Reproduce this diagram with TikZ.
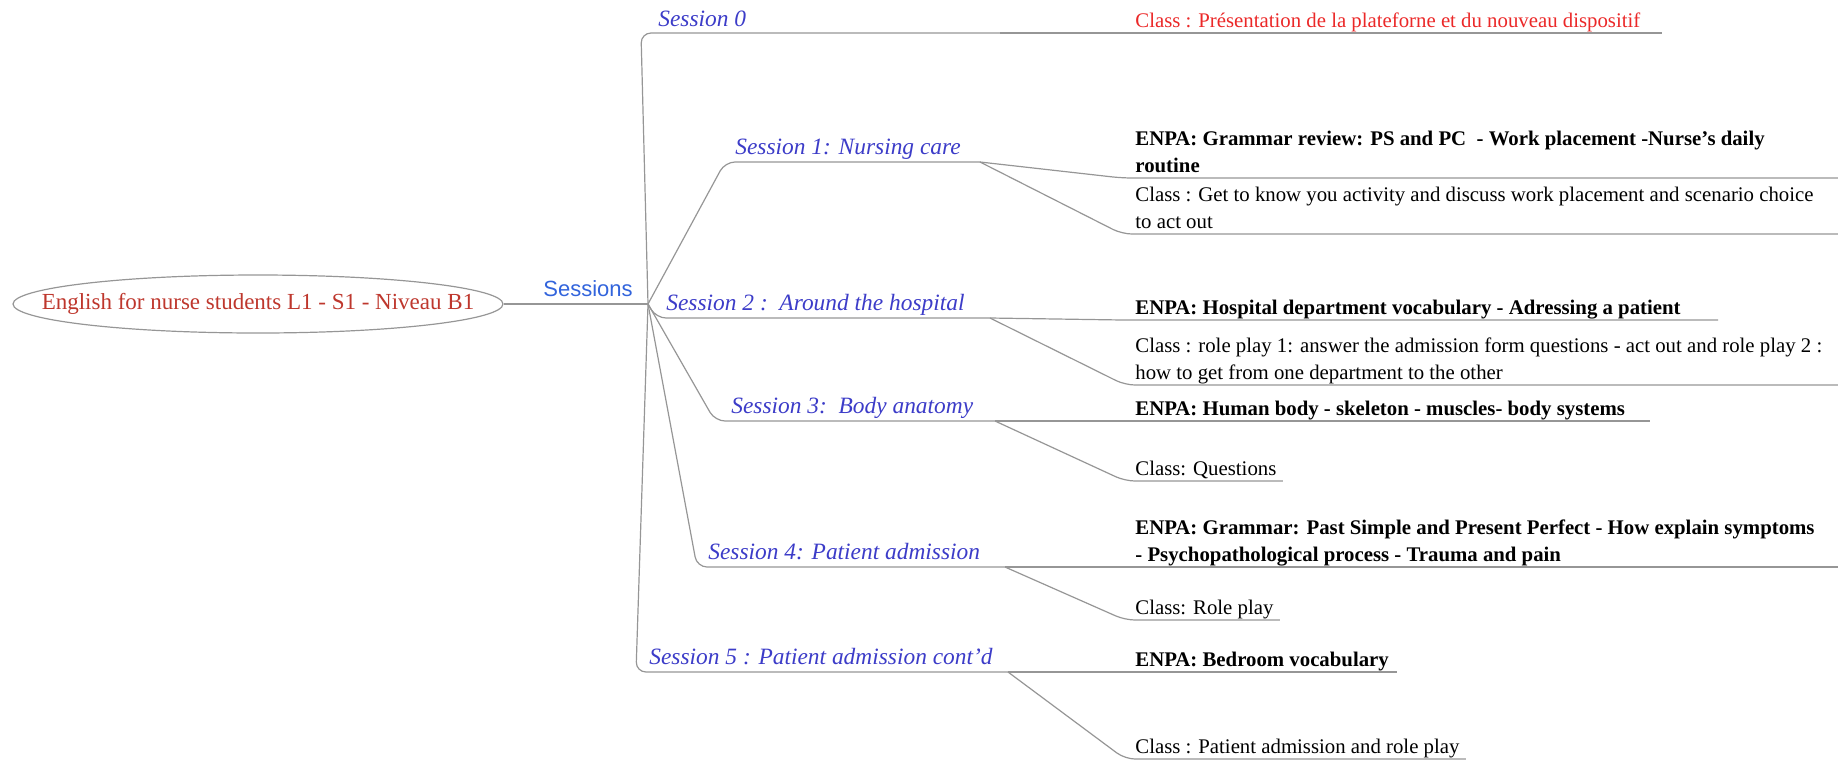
\documentclass[tikz,border=0pt]{standalone}
\usepackage{fontspec}
\setmainfont{Liberation Serif}
\newfontfamily\sansf{Liberation Sans}
\usetikzlibrary{shapes.geometric}
\definecolor{rootred}{RGB}{190,55,45}
\definecolor{edgegray}{RGB}{150,150,150}
\definecolor{sessblue}{RGB}{60,60,200}
\definecolor{hubblue}{RGB}{50,100,220}
\definecolor{clsred}{RGB}{235,40,40}
\newcommand\leafstrut{\rule[-2.5pt]{0pt}{9pt}}
\begin{document}
\begin{tikzpicture}[x=0.5pt,y=-0.5pt,
  conn/.style={draw=edgegray, line width=0.6pt, rounded corners=5pt},
  sess/.style={font=\fontsize{11.7}{14}\selectfont\itshape, text=sessblue, inner sep=0pt, anchor=base west},
  leaf/.style={font=\fontsize{10.4}{13.5}\selectfont, text=black, inner xsep=3pt, inner ysep=0pt, anchor=south west, align=left},
  enpa/.style={leaf, font=\fontsize{10.4}{13.5}\selectfont\bfseries},
  rootnode/.style={draw=edgegray, line width=0.6pt, ellipse, minimum height=29pt, inner xsep=-21.5pt, inner ysep=0pt, text=rootred, font=\fontsize{11.5}{14}\selectfont},
  hublabel/.style={font=\sansf\fontsize{11}{13}\selectfont, text=hubblue, anchor=base, inner sep=0pt}
]
\useasboundingbox (0,0) rectangle (1838,762);

% root
\node[rootnode] (root) at (258,304) {English for nurse students L1 - S1 - Niveau B1};
\coordinate (hub) at (648,304);
\node[hublabel] (lab) at (588,296) {Sessions};
\draw[conn] (root.east) -- (hub);

% Session 0
\node[sess] (s0) at (658,26) {Session 0};
\coordinate (b0) at (641,33);
\coordinate (e0) at (1000,33);
\draw[conn] (hub) -- (b0) -- (e0);
\node[leaf, text=clsred] (c0) at (1129,33) {Class : Présentation de la plateforne et du nouveau dispositif\leafstrut};
\coordinate (u0) at (1662,33);
\draw[conn] (e0) -- (u0);

% Session 1
\node[sess] (s1) at (735,154) {Session 1: Nursing care};
\coordinate (b1) at (725,162);
\coordinate (e1) at (980,162);
\draw[conn] (hub) -- (b1) -- (e1);
\node[enpa] (n1) at (1129,178) {ENPA: Grammar review: PS and PC\ \ - Work placement -Nurse’s daily\\routine\leafstrut};
\coordinate (j1) at (1122,178);
\coordinate (r1) at (1838,178);
\draw[conn] (e1) -- (j1) -- (r1);
\node[leaf] (c1) at (1129,234) {Class : Get to know you activity and discuss work placement and scenario choice\\to act out\leafstrut};
\coordinate (k1) at (1122,234);
\coordinate (q1) at (1838,234);
\draw[conn] (e1) -- (k1) -- (q1);

% Session 2
\node[sess] (s2) at (666,310) {Session 2 :\ \ Around the hospital};
\coordinate (b2) at (656,318);
\coordinate (e2) at (990,318);
\draw[conn] (hub) -- (b2) -- (e2);
\node[enpa] (n2) at (1129,320) {ENPA: Hospital department vocabulary - Adressing a patient\leafstrut};
\coordinate (j2) at (1122,320);
\coordinate (u2) at (1718,320);
\draw[conn] (e2) -- (j2) -- (u2);
\node[leaf] (c2) at (1129,385) {Class : role play 1: answer the admission form questions - act out and role play 2 :\\how to get from one department to the other\leafstrut};
\coordinate (k2) at (1125,385);
\coordinate (q2) at (1838,385);
\draw[conn] (e2) -- (k2) -- (q2);

% Session 3
\node[sess] (s3) at (731,413) {Session 3:\ \ Body anatomy};
\coordinate (b3) at (715,421);
\coordinate (e3) at (995,421);
\draw[conn] (hub) -- (b3) -- (e3);
\node[enpa] (n3) at (1129,421) {ENPA: Human body - skeleton - muscles- body systems\leafstrut};
\coordinate (u3) at (1650,421);
\draw[conn] (e3) -- (u3);
\node[leaf] (c3) at (1129,481) {Class: Questions\leafstrut};
\coordinate (k3) at (1125,481);
\draw[conn] (e3) -- (k3) -- (c3.south east);

% Session 4
\node[sess] (s4) at (708,559) {Session 4: Patient admission};
\coordinate (b4) at (697,567);
\coordinate (e4) at (1005,567);
\draw[conn] (hub) -- (b4) -- (e4);
\node[enpa] (n4) at (1129,567) {ENPA: Grammar: Past Simple and Present Perfect - How explain symptoms\\- Psychopathological process - Trauma and pain\leafstrut};
\coordinate (r4) at (1838,567);
\draw[conn] (e4) -- (r4);
\node[leaf] (c4) at (1129,620) {Class: Role play\leafstrut};
\coordinate (k4) at (1125,620);
\draw[conn] (e4) -- (k4) -- (c4.south east);

% Session 5
\node[sess] (s5) at (649,664) {Session 5 : Patient admission cont’d};
\coordinate (b5) at (636,672);
\coordinate (e5) at (1008,672);
\draw[conn] (hub) -- (b5) -- (e5);
\node[enpa] (n5) at (1129,672) {ENPA: Bedroom vocabulary\leafstrut};
\coordinate (u5) at (1397,672);
\draw[conn] (e5) -- (u5);
\node[leaf] (c5) at (1129,759) {Class : Patient admission and role play\leafstrut};
\coordinate (k5) at (1125,759);
\draw[conn] (e5) -- (k5) -- (c5.south east);
\end{tikzpicture}
\end{document}
